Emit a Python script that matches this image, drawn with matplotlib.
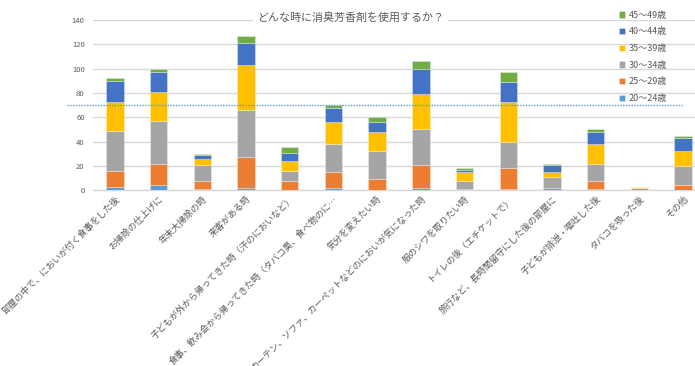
import matplotlib
matplotlib.use("Agg")
import matplotlib.pyplot as plt
import numpy as np

plt.rcParams['font.family'] = ['Noto Sans CJK JP', 'DejaVu Sans']

categories = [
    "部屋の中で、においが付く食事をした後",
    "お掃除の仕上げに",
    "年末大掃除の時",
    "来客がある時",
    "子どもが外から帰ってきた時（汗のにおいなど）",
    "食事、飲み会から帰ってきた時（タバコ臭、食べ物のに…",
    "気分を変えたい時",
    "カーテン、ソファ、カーペットなどのにおいが気になった時",
    "服のシワを取りたい時",
    "トイレの後（エチケットで）",
    "旅行など、長時間留守にした後の部屋に",
    "子どもが排泄・嘔吐した後",
    "タバコを吸った後",
    "その他",
]

series_names = ["20～24歳", "25～29歳", "30～34歳", "35～39歳", "40～44歳", "45～49歳"]
age_20_24 = [3, 4, 1, 2, 0.5, 2, 0, 2, 0, 1, 0, 1, 0.5, 0]
age_25_29 = [13, 18, 7, 25, 7, 13, 9, 19, 1, 17, 2, 7, 0, 4]
age_30_34 = [33, 35, 13, 39, 8.5, 23, 23, 29, 7, 22, 9, 14, 1, 16]
age_35_39 = [24, 24, 5, 37, 8, 18, 16, 29, 7, 33, 4, 16, 1, 12]
age_40_44 = [17, 16, 3, 18, 7, 12, 8, 21, 2, 16, 6, 10, 0, 11]
age_45_49 = [2, 3, 1, 6, 5, 2, 4, 6, 1, 8, 1, 2, 0, 2]
series_values = [age_20_24, age_25_29, age_30_34, age_35_39, age_40_44, age_45_49]
colors = ["#5B9BD5", "#ED7D31", "#A5A5A5", "#FFC000", "#4472C4", "#70AD47"]

yticks = [0, 20, 40, 60, 80, 100, 120, 140]
reference_value = 70

W, H = 695, 366
fig = plt.figure(figsize=(W / 100, H / 100), dpi=100)
ax = fig.add_axes([93 / W, (H - 190.3) / H, (705 - 93) / W, 170.3 / H])

x = np.arange(len(categories))
bottom = np.zeros(len(categories))
handles = []
for name, vals, c in zip(series_names, series_values, colors):
    v = np.array(vals, dtype=float)
    b = ax.bar(x, v, 0.4, bottom=bottom, color=c, label=name, zorder=3,
               edgecolor=(1, 1, 1, 0.35), linewidth=0.6)
    handles.append(b)
    bottom += v

ax.set_xlim(-0.5, len(categories) - 0.5)
ax.set_ylim(0, 140)
ax.set_yticks(yticks)
ax.yaxis.grid(True, color="#D9D9D9", linewidth=1.0, zorder=0)
ax.set_axisbelow(True)
for s in ["top", "right", "left"]:
    ax.spines[s].set_visible(False)
ax.spines["bottom"].set_color("#D9D9D9")
ax.spines["bottom"].set_linewidth(1.0)
ax.tick_params(axis="y", length=0, labelsize=5.5, labelcolor="#595959", pad=6)
ax.tick_params(axis="x", length=0, labelsize=6.5, labelcolor="#595959", pad=3)
ax.set_xticks(x)
ax.set_xticklabels(categories, rotation=45, ha="right", rotation_mode="anchor")

# reference dotted line
ax.axhline(reference_value, xmin=(67 - 93) / 612, xmax=(683 - 93) / 612,
           color="#5B9BD5", linestyle=(0, (1, 1)), linewidth=1.0, clip_on=False, zorder=4)

# title with white background covering the top gridline
fig.text(350.5 / W, (H - 17) / H, "どんな時に消臭芳香剤を使用するか？",
         ha="center", va="center", fontsize=7.9, color="#595959",
         bbox=dict(facecolor="white", edgecolor="none", pad=2.5), zorder=10)

leg = ax.legend(handles[::-1], series_names[::-1], loc="upper left",
                bbox_to_anchor=(615 / W, (H - 7) / H), bbox_transform=fig.transFigure,
                frameon=False, fontsize=6.5, labelcolor="#595959",
                handlelength=0.7, handleheight=0.7, handletextpad=0.4,
                labelspacing=0.85, borderaxespad=0)

fig.savefig("out.png", dpi=100)
